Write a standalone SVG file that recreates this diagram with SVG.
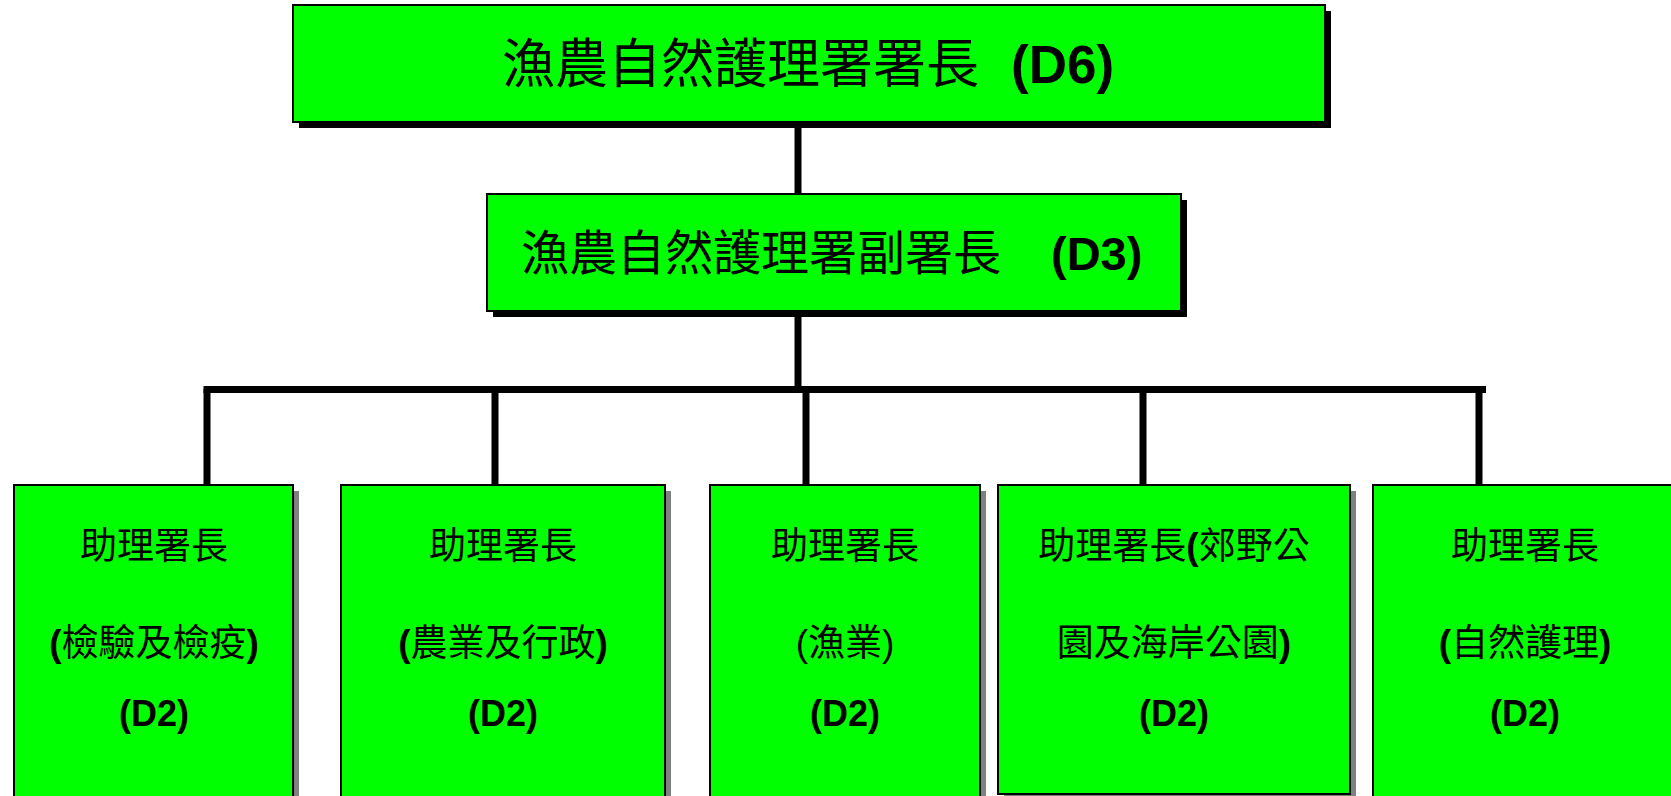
<svg xmlns="http://www.w3.org/2000/svg" width="1671" height="796" viewBox="0 0 1671 796">
<style>
.box{fill:#00ff00;stroke:#000;stroke-width:2}
.shB{fill:#000}
.shG{fill:#808080}
.cjk{font-family:"Noto Sans CJK TC","Noto Sans CJK SC",sans-serif;font-weight:400}
.lat{font-family:"Liberation Sans",Arial,sans-serif;font-weight:700}
.latr{font-family:"Liberation Sans",Arial,sans-serif;font-weight:400}
.t{fill:#000}
.conn{stroke:#000;stroke-width:7;fill:none}
</style>
<rect width="1671" height="796" fill="#fff"/>
<g id="connectors">
<line class="conn" x1="798" y1="122" x2="798" y2="194"/>
<line class="conn" x1="798" y1="312" x2="798" y2="390"/>
<line class="conn" x1="203.5" y1="389.5" x2="1486" y2="389.5"/>
<line class="conn" x1="207" y1="389" x2="207" y2="485"/>
<line class="conn" x1="495" y1="389" x2="495" y2="485"/>
<line class="conn" x1="806" y1="389" x2="806" y2="485"/>
<line class="conn" x1="1143" y1="389" x2="1143" y2="485"/>
<line class="conn" x1="1479" y1="389" x2="1479" y2="485"/>
</g>
<g id="node-d6">
<rect class="shB" x="299" y="11" width="1032" height="117"/>
<rect class="box" x="293" y="5" width="1032" height="117"/>
<text class="t" y="83"><tspan class="cjk" x="502" font-size="53">漁農自然護理署署長</tspan><tspan class="lat" x="1011" font-size="53">(D6)</tspan></text>
</g>
<g id="node-d3">
<rect class="shB" x="493" y="200" width="694" height="117"/>
<rect class="box" x="487" y="194" width="694" height="117"/>
<text class="t" y="270"><tspan class="cjk" x="521" font-size="48">漁農自然護理署副署長</tspan><tspan class="lat" x="1051" font-size="47">(D3)</tspan></text>
</g>
<g id="node-ad1">
<rect class="shG" x="20" y="491" width="279" height="320"/>
<rect class="box" x="14" y="485" width="279" height="320"/>
<text class="t cjk" x="154" y="559" font-size="37" text-anchor="middle">助理署長</text>
<text class="t" x="154" y="656" font-size="37" text-anchor="middle"><tspan class="lat">(</tspan><tspan class="cjk">檢驗及檢疫</tspan><tspan class="lat">)</tspan></text>
<text class="t lat" x="154" y="726" font-size="36" text-anchor="middle">(D2)</text>
</g>
<g id="node-ad2">
<rect class="shG" x="347" y="491" width="324" height="320"/>
<rect class="box" x="341" y="485" width="324" height="320"/>
<text class="t cjk" x="503" y="559" font-size="37" text-anchor="middle">助理署長</text>
<text class="t" x="503" y="656" font-size="37" text-anchor="middle"><tspan class="lat">(</tspan><tspan class="cjk">農業及行政</tspan><tspan class="lat">)</tspan></text>
<text class="t lat" x="503" y="726" font-size="36" text-anchor="middle">(D2)</text>
</g>
<g id="node-ad3">
<rect class="shG" x="716" y="491" width="270" height="320"/>
<rect class="box" x="710" y="485" width="270" height="320"/>
<text class="t cjk" x="845" y="559" font-size="37" text-anchor="middle">助理署長</text>
<text class="t" x="845" y="656" font-size="37" text-anchor="middle"><tspan class="latr">(</tspan><tspan class="cjk">漁業</tspan><tspan class="latr">)</tspan></text>
<text class="t lat" x="845" y="726" font-size="36" text-anchor="middle">(D2)</text>
</g>
<g id="node-ad4">
<rect class="shG" x="1004" y="491" width="352" height="309"/>
<rect class="box" x="998" y="485" width="352" height="309"/>
<text class="t" x="1174" y="559" font-size="37" text-anchor="middle"><tspan class="cjk">助理署長</tspan><tspan class="lat">(</tspan><tspan class="cjk">郊野公</tspan></text>
<text class="t" x="1174" y="656" font-size="37" text-anchor="middle"><tspan class="cjk">園及海岸公園</tspan><tspan class="lat">)</tspan></text>
<text class="t lat" x="1174" y="726" font-size="36" text-anchor="middle">(D2)</text>
</g>
<g id="node-ad5">
<rect class="box" x="1373" y="485" width="310" height="320"/>
<text class="t cjk" x="1525" y="559" font-size="37" text-anchor="middle">助理署長</text>
<text class="t" x="1525" y="656" font-size="37" text-anchor="middle"><tspan class="lat">(</tspan><tspan class="cjk">自然護理</tspan><tspan class="lat">)</tspan></text>
<text class="t lat" x="1525" y="726" font-size="36" text-anchor="middle">(D2)</text>
</g>
</svg>
